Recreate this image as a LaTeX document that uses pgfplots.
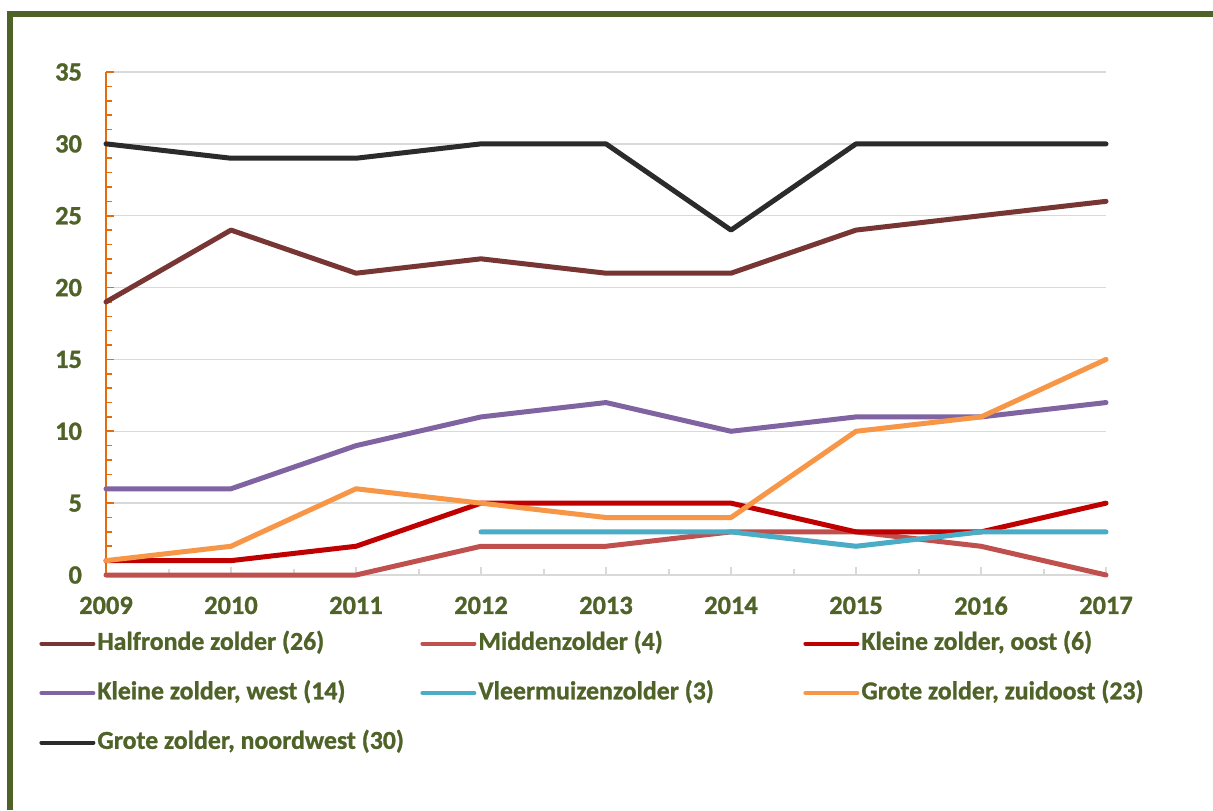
\documentclass[border=0pt]{standalone}
\usepackage{fontspec}
\setmainfont{Carlito}[BoldFeatures={FakeBold=1}]
\usepackage{pgfplots}
\pgfplotsset{compat=1.18}
\definecolor{olv}{HTML}{4F6228}
\definecolor{axor}{HTML}{E46C0A}
\definecolor{grd}{HTML}{D9D9D9}
\definecolor{cHalf}{HTML}{773634}
\definecolor{cMid}{HTML}{C0504D}
\definecolor{cOost}{HTML}{C00000}
\definecolor{cWest}{HTML}{8064A2}
\definecolor{cVleer}{HTML}{4BACC6}
\definecolor{cZuid}{HTML}{F79646}
\definecolor{cNoord}{HTML}{2B2B2B}
\begin{document}
\begin{tikzpicture}
\useasboundingbox (0,0) rectangle (606.5pt,405pt);
\fill[white] (0,0) rectangle (606.5pt,405pt);
\draw[olv, line width=3pt] (4.75pt,0) -- (4.75pt,398.1pt) -- (606.5pt,398.1pt);
\begin{axis}[
  at={(53pt,117.5pt)}, anchor=south west,
  scale only axis, width=500pt, height=251.5pt,
  xmin=2009, xmax=2017, ymin=0, ymax=35, clip=false,
  axis lines*=left,
  x axis line style={-, draw=grd, line width=1pt},
  y axis line style={-, draw=axor, line width=0.8pt},
  tick align=inside,
  xtick={2009,2010,2011,2012,2013,2014,2015,2016,2017},
  xticklabels={2009,2010,2011,2012,2013,2014,2015,2016,2017},
  minor x tick num=1,
  ytick={0,5,10,15,20,25,30,35},
  minor y tick num=4,
  major tick length=4pt, minor tick length=3pt,
  xtick style={draw=grd, line width=1pt},
  ytick style={draw=axor, line width=0.8pt},
  ymajorgrids, grid style={draw=grd, line width=0.75pt},
  /pgf/number format/assume math mode=true,
  ticklabel style={font=\fontsize{13.2}{15}\selectfont\bfseries, text=olv},
  yticklabel style={xshift=-8.5pt},
  xticklabel style={yshift=-7.3pt},
  every axis plot/.append style={line width=2.5pt, line join=round, line cap=round},
  legend columns=3,
  legend cell align=left,
  legend image code/.code={\draw[#1, line width=2pt, line cap=round] (0pt,0pt) -- (26pt,0pt);},
  legend style={draw=none, fill=none, at={(-0.067,-0.1062)}, anchor=north west,
    font=\fontsize{12.9}{15}\selectfont\bfseries, text=olv,
    column sep=0pt, row sep=10.05pt, inner sep=0pt,
    nodes={inner sep=1pt, text height=9.5pt, text depth=3.2pt}},
]
\addplot[cHalf] coordinates {(2009,19)(2010,24)(2011,21)(2012,22)(2013,21)(2014,21)(2015,24)(2016,25)(2017,26)};
\addlegendentry{\makebox[160.5pt][l]{Halfronde zolder (26)}}
\addplot[cMid] coordinates {(2009,0)(2010,0)(2011,0)(2012,2)(2013,2)(2014,3)(2015,3)(2016,2)(2017,0)};
\addlegendentry{\makebox[161.5pt][l]{Middenzolder (4)}}
\addplot[cOost] coordinates {(2009,1)(2010,1)(2011,2)(2012,5)(2013,5)(2014,5)(2015,3)(2016,3)(2017,5)};
\addlegendentry{Kleine zolder, oost (6)}
\addplot[cWest] coordinates {(2009,6)(2010,6)(2011,9)(2012,11)(2013,12)(2014,10)(2015,11)(2016,11)(2017,12)};
\addlegendentry{\makebox[160.5pt][l]{Kleine zolder, west (14)}}
\addplot[cVleer] coordinates {(2012,3)(2013,3)(2014,3)(2015,2)(2016,3)(2017,3)};
\addlegendentry{\makebox[161.5pt][l]{Vleermuizenzolder (3)}}
\addplot[cZuid] coordinates {(2009,1)(2010,2)(2011,6)(2012,5)(2013,4)(2014,4)(2015,10)(2016,11)(2017,15)};
\addlegendentry{Grote zolder, zuidoost (23)}
\addplot[cNoord] coordinates {(2009,30)(2010,29)(2011,29)(2012,30)(2013,30)(2014,24)(2015,30)(2016,30)(2017,30)};
\addlegendentry{\makebox[160.5pt][l]{Grote zolder, noordwest (30)}}
\end{axis}
\end{tikzpicture}
\end{document}
